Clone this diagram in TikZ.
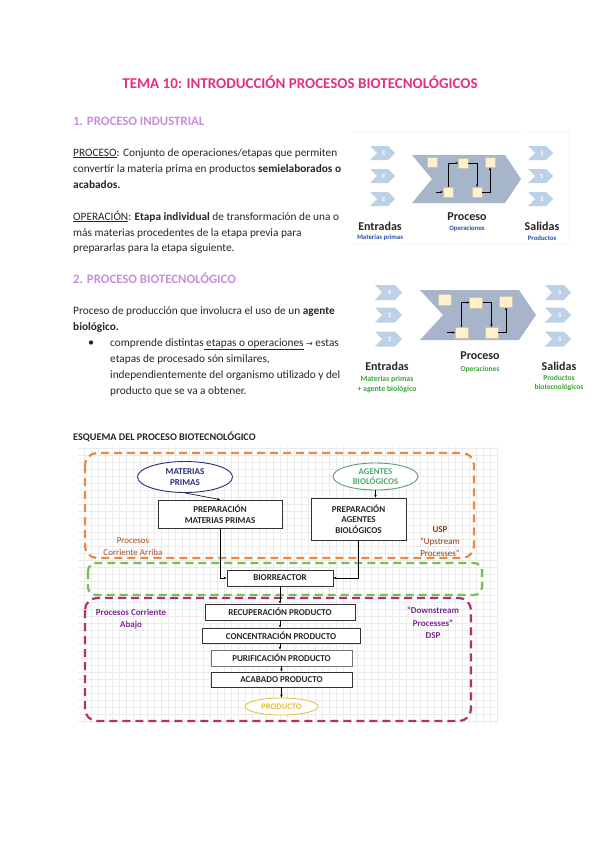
\documentclass[tikz,border=0pt]{standalone}
\usepackage{fontspec}
\setmainfont{Carlito}
\newfontfamily\dejavu{DejaVu Sans}
\usetikzlibrary{arrows.meta,shapes.geometric}
\definecolor{titlepink}{HTML}{E2327F}
\definecolor{headpurple}{HTML}{C98EDB}
\definecolor{chevlight}{HTML}{BCD0E6}
\definecolor{chevbig}{HTML}{A6B5CA}
\definecolor{sqfill}{HTML}{FFF1CC}
\definecolor{lblblue}{HTML}{2452A4}
\definecolor{lblgreen}{HTML}{3AA339}
\definecolor{dashorange}{HTML}{E88A45}
\definecolor{dashgreen}{HTML}{74BE55}
\definecolor{dashcrimson}{HTML}{B5306A}
\definecolor{navy}{HTML}{24307A}
\definecolor{agreen}{HTML}{4FA86C}
\definecolor{uspcol}{HTML}{8E3B12}
\definecolor{corrcol}{HTML}{A0522D}
\definecolor{dspcol}{HTML}{7A2A8C}
\definecolor{prodyellow}{HTML}{E2BE3C}
\begin{document}
\begin{tikzpicture}[x=1pt,y=-1pt,
  body/.style={anchor=base west, inner sep=0pt, font=\fontsize{11.3}{13}\selectfont, text=black!85},
  head/.style={anchor=base west, inner sep=0pt, font=\bfseries\fontsize{12.8}{14}\selectfont, text=headpurple},
  letter/.style={text=white, inner sep=0pt, font=\bfseries\fontsize{6.5}{7}\selectfont},
  sqa/.style={draw=sqfill!60!gray, fill=sqfill, minimum width=10pt, minimum height=10pt, inner sep=0pt, line width=0.3pt},
  sqb/.style={draw=sqfill!60!gray, fill=sqfill, minimum width=13pt, minimum height=11pt, inner sep=0pt, line width=0.3pt},
  conn/.style={line width=0.5pt, -{Stealth[length=2.5pt,width=2.2pt]}},
  lblbig/.style={inner sep=0pt, font=\bfseries\fontsize{12}{13}\selectfont, text=black!85},
  lblsmall/.style={inner sep=0pt, font=\bfseries\fontsize{6.8}{7.5}\selectfont, align=center},
  box/.style={draw=black!80, line width=0.8pt, fill=white, font=\bfseries\fontsize{9}{10.5}\selectfont, align=center, inner sep=1pt, text=black!85},
  flow/.style={line width=0.6pt, -{Stealth[length=3pt,width=2.5pt]}},
  dashbox/.style={line width=2.2pt, dash pattern=on 8pt off 5pt, rounded corners=12pt}
]
\useasboundingbox[fill=white] (0,0) rectangle (600,848);

% ---------- title and text ----------
\node[anchor=base, inner sep=0pt, font=\bfseries\fontsize{15}{17}\selectfont, text=titlepink] (title) at (300,89) {TEMA 10: INTRODUCCIÓN PROCESOS BIOTECNOLÓGICOS};

\node[head] (h1) at (73,125.5) {1. PROCESO INDUSTRIAL};
\node[body] (l1) at (73,156) {\underline{PROCESO}: Conjunto de operaciones/etapas que permiten};
\node[body] (l2) at (73,172) {convertir la materia prima en productos \textbf{semielaborados o}};
\node[body] (l3) at (73,188) {\textbf{acabados.}};
\node[body] (l4) at (73,220) {\underline{OPERACIÓN}: \textbf{Etapa individual} de transformación de una o};
\node[body] (l5) at (73,236) {más materias procedentes de la etapa previa para};
\node[body] (l6) at (73,251) {prepararlas para la etapa siguiente.};

\node[head] (h2) at (73,283.5) {2. PROCESO BIOTECNOLÓGICO};
\node[body] (m1) at (73,314) {Proceso de producción que involucra el uso de un \textbf{agente}};
\node[body] (m2) at (73,330) {\textbf{biológico.}};
\node[circle, fill=black!85, inner sep=0pt, minimum size=4.4pt] (bul) at (91,342.5) {};
\node[body] (m3) at (110,346) {comprende distintas\underline{ etapas o operaciones} {\dejavu\fontsize{8}{10}\selectfont →} estas};
\node[body] (m4) at (110,362) {etapas de procesado són similares,};
\node[body] (m5) at (110,378) {independientemente del organismo utilizado y del};
\node[body] (m6) at (110,394) {producto que se va a obtener.};

\node[anchor=base west, inner sep=0pt, font=\bfseries\fontsize{10.2}{12}\selectfont, text=black!85] (esq) at (73,440) {ESQUEMA DEL PROCESO BIOTECNOLÓGICO};

% ---------- chevron diagram 1 ----------
\draw[gray!15, dotted, line width=0.7pt] (352,131) -- (568,131) -- (568,244) -- (352,244);
\foreach \y/\n in {153/1,176/2,199/3}{
  \fill[chevlight] (370,\y-7) -- (388,\y-7) -- (395,\y) -- (388,\y+7) -- (370,\y+7) -- (377,\y) -- cycle;
  \node[letter] (dae\n) at (384,\y) {E};
  \fill[chevlight] (528,\y-7) -- (546,\y-7) -- (553,\y) -- (546,\y+7) -- (528,\y+7) -- (535,\y) -- cycle;
  \node[letter] (das\n) at (542,\y) {S};
}
\fill[chevbig] (412,155) -- (505,155) -- (521,179) -- (505,203) -- (412,203) -- (432,179) -- cycle;
\node[sqa] (a1) at (432.5,162.5) {};
\node[sqa] (a2) at (463,163) {};
\node[sqa] (a3) at (490,162.5) {};
\node[sqa] (a4) at (448,192) {};
\node[sqa] (a5) at (477,192) {};
\coordinate (a0) at (436,192);
\draw[conn] (a0) -- (a4.west);
\draw[conn] (a4.north) |- (a2.west);
\draw[conn] (a2.east) -| (a5.north);
\draw[conn] (a5.east) -| (a3.south);
\node[lblbig] (ent1) at (380,226) {Entradas};
\node[lblsmall, text=lblblue] (ent1s) at (380,238) {Materias primas};
\node[lblbig] (pro1) at (467,217) {Proceso};
\node[lblsmall, text=lblblue] (pro1s) at (467,228.5) {Operaciones};
\node[lblbig] (sal1) at (542,226) {Salidas};
\node[lblsmall, text=lblblue] (sal1s) at (542,238) {Productos};

% ---------- chevron diagram 2 ----------
\foreach \y/\n in {292.5/1,315/2,339/3}{
  \fill[chevlight] (375,\y-7.5) -- (395,\y-7.5) -- (402,\y) -- (395,\y+7.5) -- (375,\y+7.5) -- (382,\y) -- cycle;
  \node[letter] (dbe\n) at (390,\y) {E};
  \fill[chevlight] (545,\y-7.5) -- (564,\y-7.5) -- (571,\y) -- (564,\y+7.5) -- (545,\y+7.5) -- (552,\y) -- cycle;
  \node[letter] (dbs\n) at (560,\y) {S};
}
\fill[chevbig] (420,290) -- (519,290) -- (536,315) -- (519,340) -- (420,340) -- (443,315) -- cycle;
\node[sqb] (b1) at (445,300) {};
\node[sqb] (b2) at (476,302.5) {};
\node[sqb] (b3) at (506,302) {};
\node[sqb] (b4) at (461.5,332.5) {};
\node[sqb] (b5) at (491.5,332.5) {};
\coordinate (b0) at (447,332.5);
\draw[conn] (b0) -- (b4.west);
\draw[conn] (b4.north) |- (b2.west);
\draw[conn] (b2.east) -| (b5.north);
\draw[conn] (b5.east) -| (b3.south);
\node[lblbig] (ent2) at (387,366) {Entradas};
\node[lblsmall, text=lblgreen, font=\bfseries\fontsize{7.8}{10}\selectfont] (ent2s) at (387,384) {Materias primas\\+ agente biológico};
\node[lblbig] (pro2) at (480,356) {Proceso};
\node[lblsmall, text=lblgreen, font=\bfseries\fontsize{7.5}{10}\selectfont] (pro2s) at (480,369) {Operaciones};
\node[lblbig] (sal2) at (559,366) {Salidas};
\node[lblsmall, text=lblgreen, font=\bfseries\fontsize{7.5}{9.5}\selectfont] (sal2s) at (559,383) {Productos\\biotecnológicos};

% ---------- scheme ----------
\draw[gray!16, line width=0.4pt] (78,447) grid[step=7pt] (497,724);
\draw[dashbox, dashorange] (85,453) rectangle (474,558);
\draw[dashbox, dashgreen, rounded corners=8pt] (88,563) rectangle (482,595);
\draw[dashbox, dashcrimson] (85,598) rectangle (471,721);

\node[ellipse, draw=navy, line width=0.9pt, fill=white, minimum width=95pt, minimum height=31pt, inner sep=0pt, align=center, text=navy, font=\bfseries\fontsize{9}{10.5}\selectfont] (mp) at (185,477) {MATERIAS\\PRIMAS};
\node[ellipse, draw=agreen, line width=0.9pt, fill=white, minimum width=85pt, minimum height=27pt, inner sep=0pt, align=center, text=agreen, font=\bfseries\fontsize{8.8}{10}\selectfont] (ab) at (375.5,476.5) {AGENTES\\BIOLÓGICOS};
\node[box, minimum width=124pt, minimum height=28pt] (pmp) at (220,514) {PREPARACIÓN\\MATERIAS PRIMAS};
\node[box, minimum width=95pt, minimum height=42pt] (pab) at (358.5,519) {PREPARACIÓN\\AGENTES\\BIOLÓGICOS};
\node[box, minimum width=106pt, minimum height=16pt] (bio) at (280,578) {BIORREACTOR};
\node[box, minimum width=150pt, minimum height=16pt] (rec) at (280,612) {RECUPERACIÓN PRODUCTO};
\node[box, minimum width=158pt, minimum height=15pt] (con) at (281,635.5) {CONCENTRACIÓN PRODUCTO};
\node[box, draw=black!55, minimum width=141pt, minimum height=16pt] (pur) at (281.5,658) {PURIFICACIÓN PRODUCTO};
\node[box, minimum width=141pt, minimum height=15pt] (aca) at (281.5,679.5) {ACABADO PRODUCTO};
\node[ellipse, draw=prodyellow, line width=0.8pt, fill=white, minimum width=73pt, minimum height=17pt, inner sep=0pt, text=prodyellow, font=\bfseries\fontsize{8.5}{9}\selectfont] (prod) at (281.5,706.5) {PRODUCTO};

\draw[flow] (mp.south) -- (pmp.north);
\draw[flow] (ab.south) -- (ab.south |- pab.north);
\draw[flow] (pmp.south) |- (bio.west);
\draw[flow] (pab.south) |- (bio.east);
\draw[flow] (bio.south) -- (bio.south |- rec.north);
\draw[flow] (rec.south) -- (rec.south |- con.north);
\draw[flow] (con.south -| rec.south) -- (rec.south |- pur.north);
\draw[flow] (pur.south) -- (aca.north);
\draw[flow] (aca.south) -- (prod.north);

\node[inner sep=0pt, align=center, text=corrcol, font=\fontsize{9}{12}\selectfont] (upl) at (133,547) {Procesos\\Corriente Arriba};
\node[inner sep=0pt, align=center, text=uspcol, font=\fontsize{9}{12}\selectfont] (usp) at (440,542) {\textbf{USP}\\“Upstream\\Processes”};
\node[inner sep=0pt, align=center, text=dspcol, font=\bfseries\fontsize{9}{12}\selectfont] (dwl) at (131,619) {Procesos Corriente\\Abajo};
\node[inner sep=0pt, align=center, text=dspcol, font=\bfseries\fontsize{9}{12.5}\selectfont] (dsp) at (433,623) {“Downstream\\Processes”\\DSP};
\end{tikzpicture}
\end{document}
